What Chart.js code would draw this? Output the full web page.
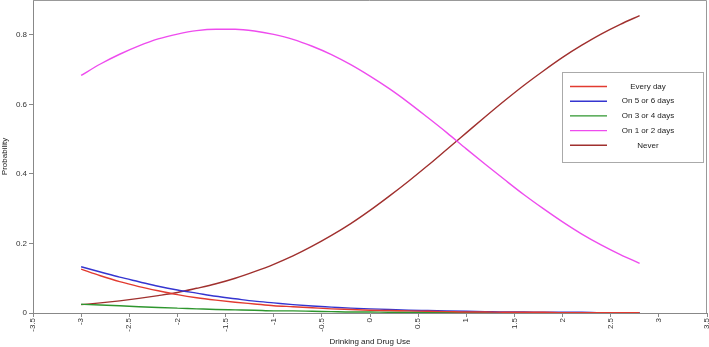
<!DOCTYPE html>
<html>
<head>
<meta charset="utf-8">
<script src="https://cdn.jsdelivr.net/npm/chart.js@4"></script>
<style>
html,body{margin:0;padding:0;background:#fff;}
#wrap{width:709px;height:347px;position:relative;}
</style>
</head>
<body>
<div id="wrap"><canvas id="c" width="709" height="347"></canvas></div>
<script>
const xValues = [-3.0,-2.8,-2.6,-2.4,-2.2,-2.0,-1.8,-1.6,-1.4,-1.2,-1.0,-0.8,-0.6,-0.4,-0.2,0.0,0.2,0.4,0.6,0.8,1.0,1.2,1.4,1.6,1.8,2.0,2.2,2.4,2.6,2.8];
const everyDay = [0.126,0.107,0.090,0.076,0.064,0.053,0.044,0.037,0.031,0.026,0.021,0.018,0.015,0.012,0.010,0.008,0.007,0.006,0.005,0.004,0.003,0.003,0.002,0.002,0.002,0.001,0.001,0.001,0.001,0.001];
const on5or6 = [0.133,0.118,0.103,0.090,0.077,0.066,0.057,0.048,0.041,0.034,0.029,0.024,0.020,0.017,0.014,0.012,0.010,0.008,0.007,0.006,0.005,0.004,0.003,0.003,0.002,0.002,0.002,0.001,0.001,0.001];
const on3or4 = [0.025,0.023,0.021,0.018,0.016,0.014,0.012,0.010,0.009,0.008,0.006,0.006,0.005,0.004,0.003,0.003,0.002,0.002,0.002,0.001,0.001,0.001,0.001,0.001,0.001,0.000,0.000,0.000,0.000,0.000];
const on1or2 = [0.683,0.716,0.744,0.768,0.788,0.802,0.812,0.816,0.816,0.811,0.801,0.787,0.767,0.743,0.714,0.681,0.645,0.605,0.562,0.518,0.472,0.427,0.383,0.340,0.300,0.262,0.227,0.196,0.168,0.143];
const never = [0.024,0.029,0.035,0.042,0.050,0.059,0.071,0.084,0.100,0.119,0.140,0.164,0.192,0.223,0.257,0.295,0.336,0.379,0.424,0.471,0.518,0.565,0.611,0.655,0.696,0.735,0.770,0.802,0.830,0.855];
const seriesNames = ["Every day","On 5 or 6 days","On 3 or 4 days","On 1 or 2 days","Never"];
const xTickLabels = ["-3.5","-3","-2.5","-2","-1.5","-1","-0.5","0","0.5","1","1.5","2","2.5","3","3.5"];
const yTickLabels = ["0","0.2","0.4","0.6","0.8"];

const colors = ["#e23b30","#3535d0","#2e962e","#ee4cee","#a0302e"];
const seriesValues = [everyDay,on5or6,on3or4,on1or2,never];

const datasets = seriesNames.map((name,i)=>({
  label: name,
  data: xValues.map((x,j)=>({x:x,y:seriesValues[i][j]})),
  borderColor: colors[i],
  backgroundColor: colors[i],
  borderWidth: 1.4,
  pointRadius: 0,
  fill: false,
  cubicInterpolationMode: 'monotone'
}));

const FONT = "'Liberation Sans', Arial, sans-serif";

function zeroPad(s){ s.paddingLeft = 0; s.paddingRight = 0; s.paddingTop = 0; s.paddingBottom = 0; }

const frame = {
  id:'frame',
  afterDraw(chart){
    const {ctx, chartArea:a} = chart;
    ctx.save();
    ctx.strokeStyle = '#999';
    ctx.lineWidth = 1;
    ctx.beginPath();
    ctx.moveTo(a.left, a.top+0.5);
    ctx.lineTo(a.right-0.5, a.top+0.5);
    ctx.lineTo(a.right-0.5, a.bottom);
    ctx.stroke();
    ctx.restore();
  }
};

const boxLegend = {
  id:'boxLegend',
  afterDraw(chart){
    const ctx = chart.ctx;
    const bx = 562, by = 72, bw = 141, bh = 90;
    ctx.save();
    ctx.fillStyle = '#fff';
    ctx.fillRect(bx,by,bw,bh);
    ctx.strokeStyle = '#aaa';
    ctx.lineWidth = 1;
    ctx.strokeRect(bx+0.5,by+0.5,bw,bh);
    ctx.font = "8px " + FONT;
    ctx.textAlign = 'center';
    ctx.textBaseline = 'middle';
    chart.data.datasets.forEach((ds,i)=>{
      const y = by + 14 + i*14.7;
      ctx.strokeStyle = ds.borderColor;
      ctx.lineWidth = 1.4;
      ctx.beginPath();
      ctx.moveTo(570,y+0.5);
      ctx.lineTo(607,y+0.5);
      ctx.stroke();
      ctx.fillStyle = '#222';
      ctx.fillText(ds.label, 648, y+0.5);
    });
    ctx.restore();
  }
};

new Chart(document.getElementById('c'), {
  type:'line',
  data:{datasets},
  plugins:[frame, boxLegend],
  options:{
    responsive:false,
    animation:false,
    layout:{padding:{top:0,right:2,left:0,bottom:0}},
    plugins:{legend:{display:false}, tooltip:{enabled:false}},
    scales:{
      x:{
        type:'linear', min:-3.5, max:3.5,
        afterFit(s){ s.height = 34; zeroPad(s); },
        ticks:{
          stepSize:0.5, minRotation:90, maxRotation:90, autoSkip:false,
          font:{size:8, family:FONT}, color:'#333', padding:1,
          callback:(v,i)=> xTickLabels[i] !== undefined ? xTickLabels[i] : ''
        },
        grid:{drawOnChartArea:false, tickLength:4, color:'#888'},
        border:{color:'#888'},
        title:{display:true, text:'Drinking and Drug Use', font:{size:8, family:FONT}, color:'#222', padding:{top:0,bottom:0}}
      },
      y:{
        type:'linear', min:0, max:0.9,
        afterFit(s){ s.width = 33; zeroPad(s); },
        ticks:{
          stepSize:0.2, includeBounds:false,
          font:{size:8, family:FONT}, color:'#333', padding:2,
          callback:(v,i)=> yTickLabels[i] !== undefined ? yTickLabels[i] : ''
        },
        grid:{drawOnChartArea:false, tickLength:4, color:'#888'},
        border:{color:'#888'},
        title:{display:true, text:'Probability', font:{size:8, family:FONT}, color:'#222', padding:{top:0,bottom:0}}
      }
    }
  }
});
</script>
</body>
</html>
